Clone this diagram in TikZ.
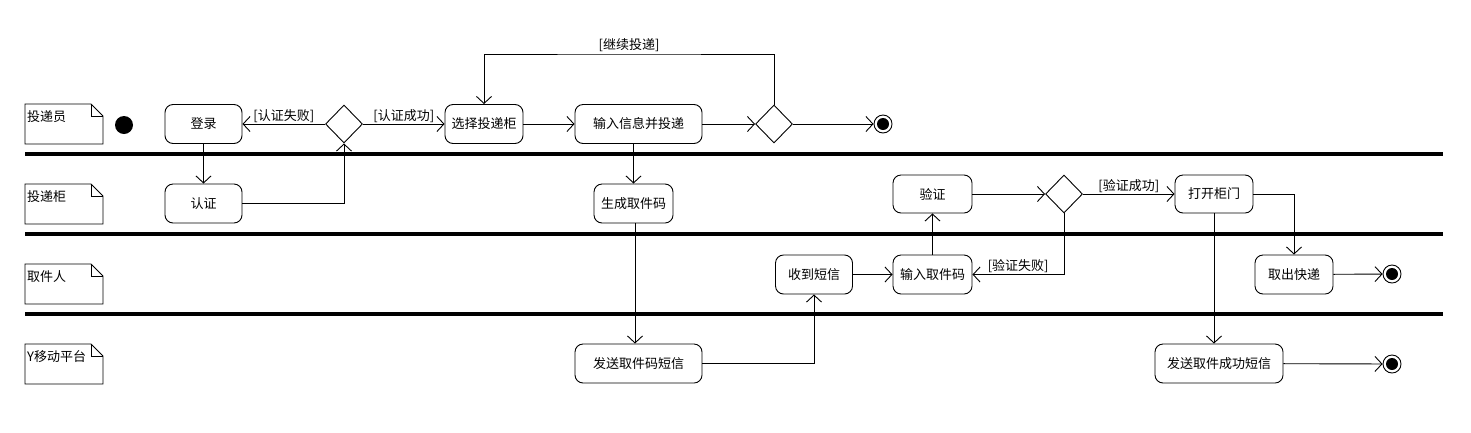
\documentclass[tikz,border=0pt]{standalone}
\usepackage{fontspec}
\setmainfont{Noto Sans CJK SC}
\usetikzlibrary{arrows.meta,shapes.geometric}
\begin{document}
\begin{tikzpicture}[x=1pt,y=-1pt,
  font=\fontsize{13}{15}\selectfont,
  act/.style={draw, rounded corners=8pt, minimum width=77pt, minimum height=39pt, line width=0.9pt, inner sep=1pt},
  dec/.style={draw, diamond, minimum width=37pt, minimum height=38pt, inner sep=0pt, line width=0.9pt},
  fin/.style={draw, circle, minimum size=18pt, inner sep=0pt, line width=0.9pt},
  arr/.style={-{Straight Barb[length=7pt,width=15pt]}, line width=0.9pt},
  ln/.style={line width=0.9pt},
  lane/.style={line width=4pt},
  guard/.style={inner sep=0pt, font=\fontsize{13}{15}\selectfont}
]
\useasboundingbox (0,0) rectangle (1471,432);

% lane notes
\foreach \y/\t/\n in {104/投递员/na, 184/投递柜/nb, 264/取件人/nc, 344/Y移动平台/nd}{
  \draw[ln] (25,\y) -- (91,\y) -- (103,\y+12) -- (103,\y+40) -- (25,\y+40) -- cycle;
  \draw[ln] (91,\y) -- (91,\y+12) -- (103,\y+12);
  \node[anchor=west, inner sep=0pt] (\n) at (27,\y+13) {\t};
}

% lane separators
\draw[lane] (25,154) -- (1443,154);
\draw[lane] (25,234) -- (1443,234);
\draw[lane] (25,314) -- (1443,314);

% nodes
\node[circle, fill, minimum size=18pt, inner sep=0pt] (init) at (124,125) {};
\node[act] (dl) at (203.5,124) {登录};
\node[act] (rz) at (203.5,203.5) {认证};
\node[dec] (d1) at (344,124) {};
\node[act, minimum width=78pt] (xz) at (484,124) {选择投递柜};
\node[act, minimum width=127pt] (sr) at (638.5,124) {输入信息并投递};
\node[dec] (d2) at (774,124) {};
\node[fin] (f1) at (883,124) {};
\fill (f1) circle (6pt);
\node[act, minimum width=79pt] (sc) at (633.5,203.5) {生成取件码};
\node[act, minimum width=79pt, minimum height=38pt] (yz) at (932.5,194) {验证};
\node[dec] (d3) at (1064,194) {};
\node[act, minimum width=78pt, minimum height=38pt] (kg) at (1214,194) {打开柜门};
\node[act] (sd) at (814,274.5) {收到短信};
\node[act, minimum width=79pt] (sm) at (932.5,274.5) {输入取件码};
\node[act, minimum width=78pt] (qc) at (1294,274.5) {取出快递};
\node[fin] (f2) at (1392,274) {};
\fill (f2) circle (6pt);
\node[act, minimum width=127pt] (fs) at (638.5,363.5) {发送取件码短信};
\node[act, minimum width=128pt] (fc) at (1219,363.5) {发送取件成功短信};
\node[fin] (f3) at (1392,364) {};
\fill (f3) circle (6pt);

% connectors
\draw[arr] (dl) -- (rz);
\draw[arr] (rz.east) -| (d1.south);
\draw[arr] (d1.west) -- (dl.east) node[guard, midway, above=1pt] {[认证失败]};
\draw[arr] (d1.east) -- (xz.west) node[guard, midway, above=1pt] {[认证成功]};
\draw[arr] (xz) -- (sr);
\draw[arr] (sr) -- (d2);
\draw[arr] (d2) -- (f1);
\coordinate (loop) at (629,54);
\draw[arr] (d2.north) |- (loop) -| (xz.north);
\node[guard, above=2pt] (lb) at (loop) {[继续投递]};
\draw[arr] (sc.north |- sr.south) -- (sc.north);
\draw[arr] ([xshift=1.5pt]sc.south) -- ([xshift=1.5pt]sc.south |- fs.north);
\draw[arr] (fs.east) -| (sd.south);
\draw[arr] (sd) -- (sm);
\draw[arr] (sm.north) -- (yz.south);
\draw[arr] (yz) -- (d3);
\draw[arr] (d3.east) -- (kg.west) node[guard, midway, above=1pt] {[验证成功]};
\draw[arr] (d3.south) |- (sm.east) node[guard, pos=0.75, above=1pt] {[验证失败]};
\draw[arr] (kg.east) -| (qc.north);
\draw[arr] (kg.south) -- (kg.south |- fc.north);
\draw[arr] (qc) -- (f2);
\draw[arr] (fc) -- (f3);
\end{tikzpicture}
\end{document}
